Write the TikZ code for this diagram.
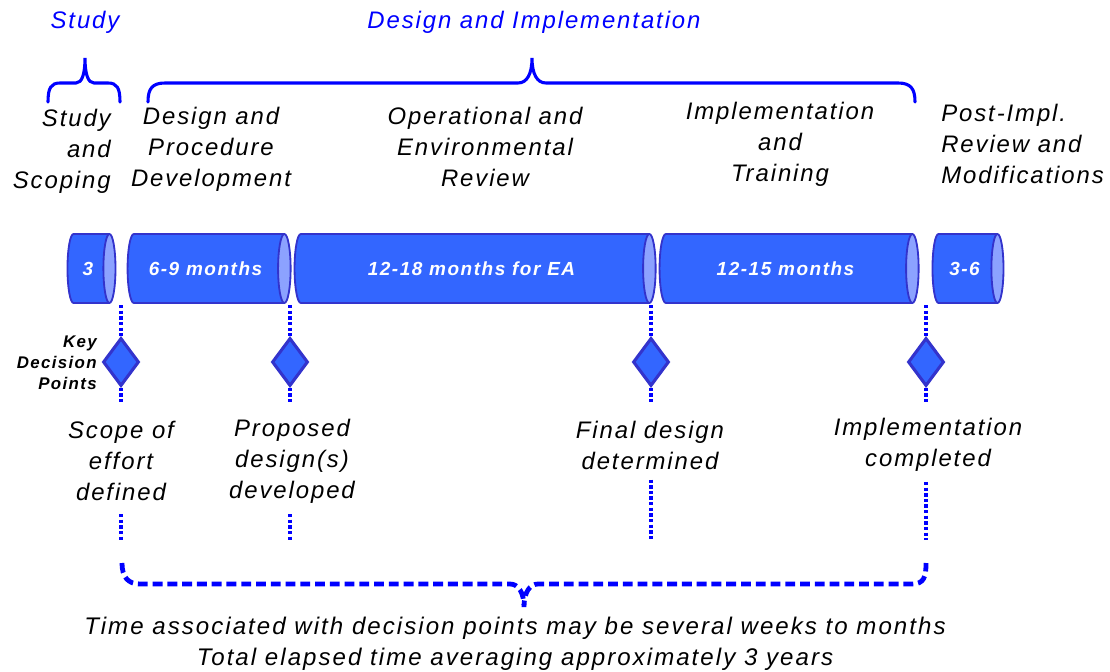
\documentclass[tikz,border=0pt]{standalone}
\usepackage{fontspec}
\setmainfont{Liberation Sans}[LetterSpace=8]
\usetikzlibrary{shapes.geometric}
\definecolor{barblue}{HTML}{3366FF}
\definecolor{capblue}{HTML}{8CA2FF}
\definecolor{rimblue}{HTML}{3333CC}
\begin{document}
\begin{tikzpicture}[x=0.025cm, y=-0.025cm,
  phase/.style={font=\fontsize{17}{22}\selectfont\itshape, align=center, inner sep=0pt},
  head/.style={font=\fontsize{17}{22}\selectfont\itshape, text=blue, inner sep=0pt},
  bar/.style={cylinder, draw=rimblue, line width=1.3pt, cylinder uses custom fill,
    cylinder body fill=barblue, cylinder end fill=capblue, shape aspect=0.9,
    minimum width=1.725cm, inner sep=0pt, text=white,
    font=\fontsize{13.5}{16}\selectfont\bfseries\itshape},
  kdp/.style={diamond, draw=rimblue, line width=2.2pt, fill=barblue,
    minimum width=0.9cm, minimum height=1.2cm, inner sep=0pt},
  dots/.style={blue, line width=2.6pt, dash pattern=on 2.4pt off 1.6pt},
  brace/.style={blue, line width=2.2pt, line cap=round}]
\useasboundingbox (0,0) rectangle (1110,671);

% headings
\node[head] (hstudy) at (85,22) {Study};
\node[head] (hdesign) at (534,22) {Design and Implementation};
\draw[brace] (48,102) .. controls (48,88) and (51,83) .. (60,83) -- (76,83)
  .. controls (82,83) and (85,74) .. (85,58) .. controls (85,74) and (88,83) .. (94,83)
  -- (108,83) .. controls (117,83) and (120,88) .. (120,102);
\draw[brace] (148,102) .. controls (148,89) and (152,83) .. (165,83) -- (518,83)
  .. controls (527,83) and (532,74) .. (532,58) .. controls (532,74) and (537,83) .. (546,83)
  -- (898,83) .. controls (911,83) and (915,89) .. (915,102);

% phases
\node[phase, align=right, anchor=east] (ph1) at (111,151) {Study\\and\\Scoping};
\node[phase] (ph2) at (211,149) {Design and\\Procedure\\Development};
\node[phase] (ph3) at (485,147) {Operational and\\Environmental\\Review};
\node[phase] (ph4) at (780,144) {Implementation\\and\\Training};
\node[phase, align=left, anchor=west] (ph5) at (941,144) {Post-Impl.\\Review and\\Modifications};

% decision point lines
\coordinate (t1) at (121,305);
\coordinate (t2) at (290,305);
\coordinate (t3) at (651,305);
\coordinate (t4) at (926,305);
\coordinate (m1) at (121,403);
\coordinate (m2) at (290,403);
\coordinate (m3) at (651,403);
\coordinate (m4) at (926,403);
\coordinate (e1) at (121,540);
\coordinate (e2) at (290,540);
\coordinate (e3) at (651,540);
\coordinate (e4) at (926,540);

% timeline
\node[bar, minimum height=1.2cm] (bar1) at (88,268.5) {3};
\node[bar, minimum height=4.075cm] (bar2) at (205.5,268.5) {6-9 months};
\node[bar, minimum height=9.025cm] (bar3) at (471.5,268.5) {12-18 months for EA};
\node[bar, minimum height=6.475cm] (bar4) at (785.5,268.5) {12-15 months};
\node[bar, minimum height=1.775cm] (bar5) at (964.5,268.5) {3-6};

\node[kdp] (kdp1) at (121,362) {};
\node[kdp] (kdp2) at (290,362) {};
\node[kdp] (kdp3) at (651,362) {};
\node[kdp] (kdp4) at (926,362) {};
\node[font=\fontsize{12}{15}\selectfont\bfseries\itshape, align=right, anchor=east,
  inner sep=0pt] (keyd) at (97,363) {Key\\Decision\\Points};

\node[phase] (lab1) at (121,461) {Scope of\\effort\\defined};
\node[phase] (lab2) at (292,461) {Proposed\\design(s)\\developed};
\node[phase] (lab3) at (650,445) {Final design\\determined};
\node[phase] (lab4) at (928,445) {Implementation\\completed};

\foreach \i in {1,...,4} {
  \draw[dots] (t\i) -- (kdp\i);
  \draw[dots] (kdp\i) -- (m\i);
}
\draw[dots] (121,514) -- (e1);
\draw[dots] (290,514) -- (e2);
\draw[dots] (lab3.south) ++(1,10) -- (e3);
\draw[dots] (lab4.south) ++(-2,10) -- (e4);

% total
\draw[blue, line width=3.4pt, dash pattern=on 7pt off 3.5pt]
  (122,563) .. controls (122,577) and (128,584) .. (140,584) -- (510,584)
  .. controls (518,584) and (524,592) .. (524,607) .. controls (524,592) and (530,584) .. (538,584)
  -- (912,584) .. controls (924,584) and (926,577) .. (926,563);
\node[phase, font=\fontsize{17.1}{22}\selectfont\itshape\addfontfeatures{LetterSpace=8.5}]
  (total) at (515,644) {Time associated with decision points may be several weeks to months\\Total elapsed time averaging approximately 3 years};
\end{tikzpicture}
\end{document}
